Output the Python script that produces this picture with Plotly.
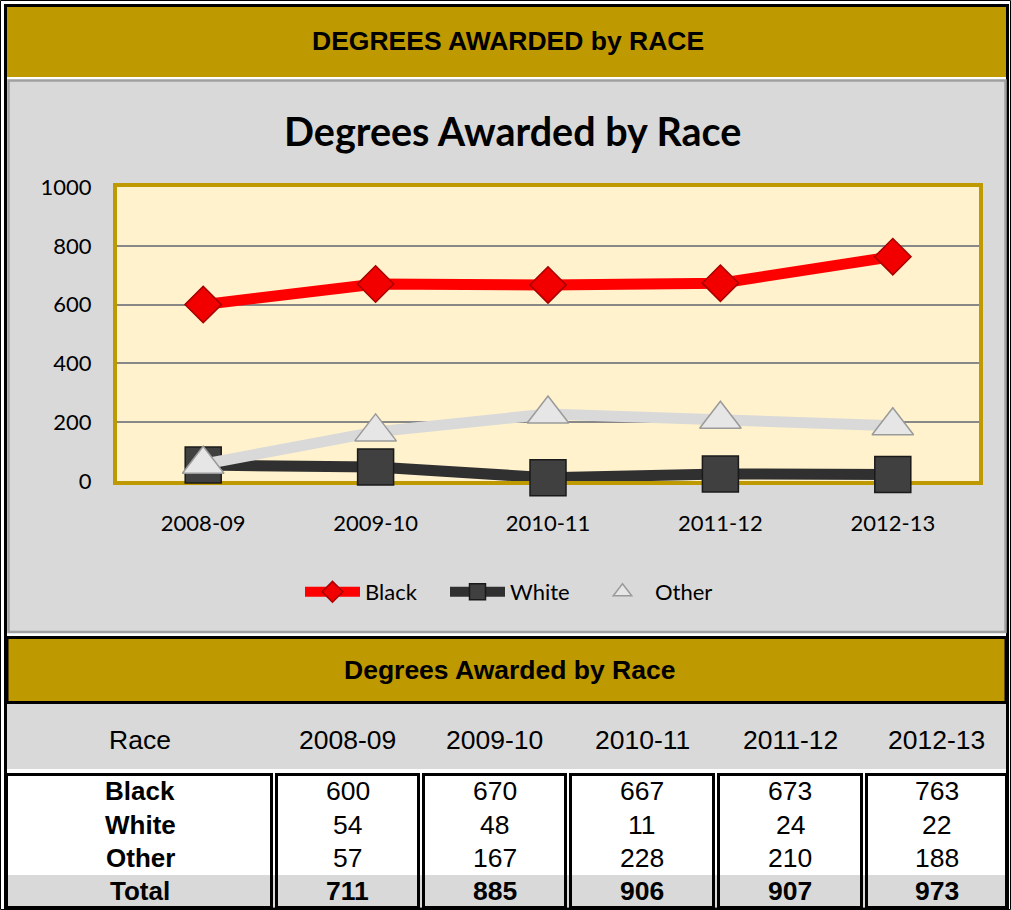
import plotly.graph_objects as go

# ---------------- data ----------------
years = ['2008-09', '2009-10', '2010-11', '2011-12', '2012-13']
black_vals = [600, 670, 667, 673, 763]
white_vals = [54, 48, 11, 24, 22]
other_vals = [57, 167, 228, 210, 188]
total_vals = [711, 885, 906, 907, 973]
race_labels = ['Black', 'White', 'Other', 'Total']
y_ticks = [0, 200, 400, 600, 800, 1000]

top_heading = 'DEGREES AWARDED by RACE'
chart_title = 'Degrees Awarded by Race'
table_heading = 'Degrees Awarded by Race'
race_header = 'Race'

# ---------------- layout helpers ----------------
W, H = 1011, 910
GOLD = '#BF9900'
GRAY = '#D9D9D9'
CHART_FONT = 'Lato'
TABLE_FONT = 'Liberation Sans, Arial'


def px(x):
    return x / W


def py(y):
    return 1 - y / H


def rect(x0, y0, x1, y1, fill=None, line=None, lw=0, layer='below'):
    d = dict(type='rect', xref='paper', yref='paper',
             x0=px(x0), x1=px(x1), y0=py(y1), y1=py(y0), layer=layer)
    d['fillcolor'] = fill if fill else 'rgba(0,0,0,0)'
    d['line'] = dict(color=line if line else 'rgba(0,0,0,0)', width=lw)
    return d


def label(text, x, y, size, family=TABLE_FONT):
    return dict(text=text, x=px(x), y=py(y), xref='paper', yref='paper',
                xanchor='center', yanchor='middle', showarrow=False,
                font=dict(family=family, size=size, color='black'))


fig = go.Figure()

fig.add_trace(go.Scatter(
    x=years, y=black_vals, name='Black', mode='lines+markers',
    line=dict(color='#FF0000', width=11),
    marker=dict(symbol='diamond', size=28, color='#F20000',
                line=dict(color='#A80000', width=1.5)),
    cliponaxis=False))
fig.add_trace(go.Scatter(
    x=years, y=white_vals, name='White', mode='lines+markers',
    line=dict(color='#303030', width=11),
    marker=dict(symbol='square', size=36, color='#404040',
                line=dict(color='#1A1A1A', width=1.5)),
    cliponaxis=False))
fig.add_trace(go.Scatter(
    x=years, y=other_vals, name='Other', mode='lines+markers',
    line=dict(color='#D9D9D9', width=11),
    marker=dict(symbol='triangle-up', size=36, color='#E6E6E6',
                line=dict(color='#9A9A9A', width=1.5)),
    cliponaxis=False))

shapes = []
# outer frame
shapes.append(rect(0.5, 0.5, 1010.5, 909.5, line='black', lw=1))
shapes.append(rect(5.5, 5.5, 1007.5, 909, line='black', lw=3))
# top gold banner
shapes.append(rect(7, 7, 1006, 77, fill=GOLD))
# chart area
shapes.append(rect(8.5, 80.5, 1005.5, 632, fill=GRAY, line='#A0A0A0', lw=2.5))
# plot area background
shapes.append(rect(117, 187, 979, 481, fill='#FFF2CC'))
# table gold banner
shapes.append(rect(7, 637.5, 1006, 702.5, fill=GOLD, line='black', lw=3))
# header row
shapes.append(rect(7, 704, 1006, 769, fill=GRAY))
# total row background
shapes.append(rect(7, 875, 1006, 907, fill=GRAY))

box_edges = [(5, 273), (275, 420), (422, 567), (569, 715), (717, 863), (865, 1008)]
for (a, b) in box_edges:
    shapes.append(rect(a + 1.5, 774.5, b - 1.5, 907.5, line='black', lw=3, layer='above'))

annotations = []
annotations.append(label('<b>%s</b>' % top_heading, 508, 41, 26.5))
annotations.append(label('<b>%s</b>' % chart_title, 512, 131, 39.5, CHART_FONT))
annotations.append(label('<b>%s</b>' % table_heading, 509, 670, 26.5))

col_centers = [(a + b) / 2 for a, b in box_edges]
col_centers[0] = 140
header_y = 740
annotations.append(label(race_header, col_centers[0], header_y, 26.5))
for i, yr in enumerate(years):
    annotations.append(label(yr, col_centers[i + 1], header_y, 26.5))

row_y = [791, 825, 858, 891]
rows = [black_vals, white_vals, other_vals, total_vals]
for r, (lab, vals) in enumerate(zip(race_labels, rows)):
    annotations.append(label('<b>%s</b>' % lab, col_centers[0], row_y[r], 26))
    for i, v in enumerate(vals):
        t = '<b>%d</b>' % v if lab == 'Total' else '%d' % v
        annotations.append(label(t, col_centers[i + 1], row_y[r], 26.5))

fig.update_layout(
    width=W, height=H,
    margin=dict(l=0, r=0, t=0, b=0, pad=0, autoexpand=False),
    paper_bgcolor='white',
    plot_bgcolor='rgba(0,0,0,0)',
    shapes=shapes,
    annotations=annotations,
    showlegend=True,
    legend=dict(orientation='h', x=px(300), xanchor='left', y=py(592), yanchor='middle',
                font=dict(family=CHART_FONT, size=22, color='black'),
                bgcolor='rgba(0,0,0,0)', itemwidth=55, entrywidth=75,
                itemsizing='trace'),
    xaxis=dict(domain=[px(117), px(979)], type='category', range=[-0.5, 4.5],
               showline=True, mirror=True, linecolor=GOLD, linewidth=4,
               showgrid=False, zeroline=False, ticks='', layer='below traces',
               tickfont=dict(family=CHART_FONT, size=22, color='black'),
               ticklabelstandoff=20, automargin=False, fixedrange=True),
    yaxis=dict(domain=[py(481), py(187)], range=[0, 1000], tickvals=y_ticks,
               showline=True, mirror=True, linecolor=GOLD, linewidth=4,
               showgrid=True, gridcolor='#888888', gridwidth=1.5,
               zeroline=False, ticks='', layer='below traces',
               tickfont=dict(family=CHART_FONT, size=22, color='black'),
               ticklabelstandoff=17, automargin=False, fixedrange=True),
)

fig.write_html("out.html", config={'displayModeBar': False},
               post_script="document.body.style.margin='0';document.body.style.overflow='hidden';")
